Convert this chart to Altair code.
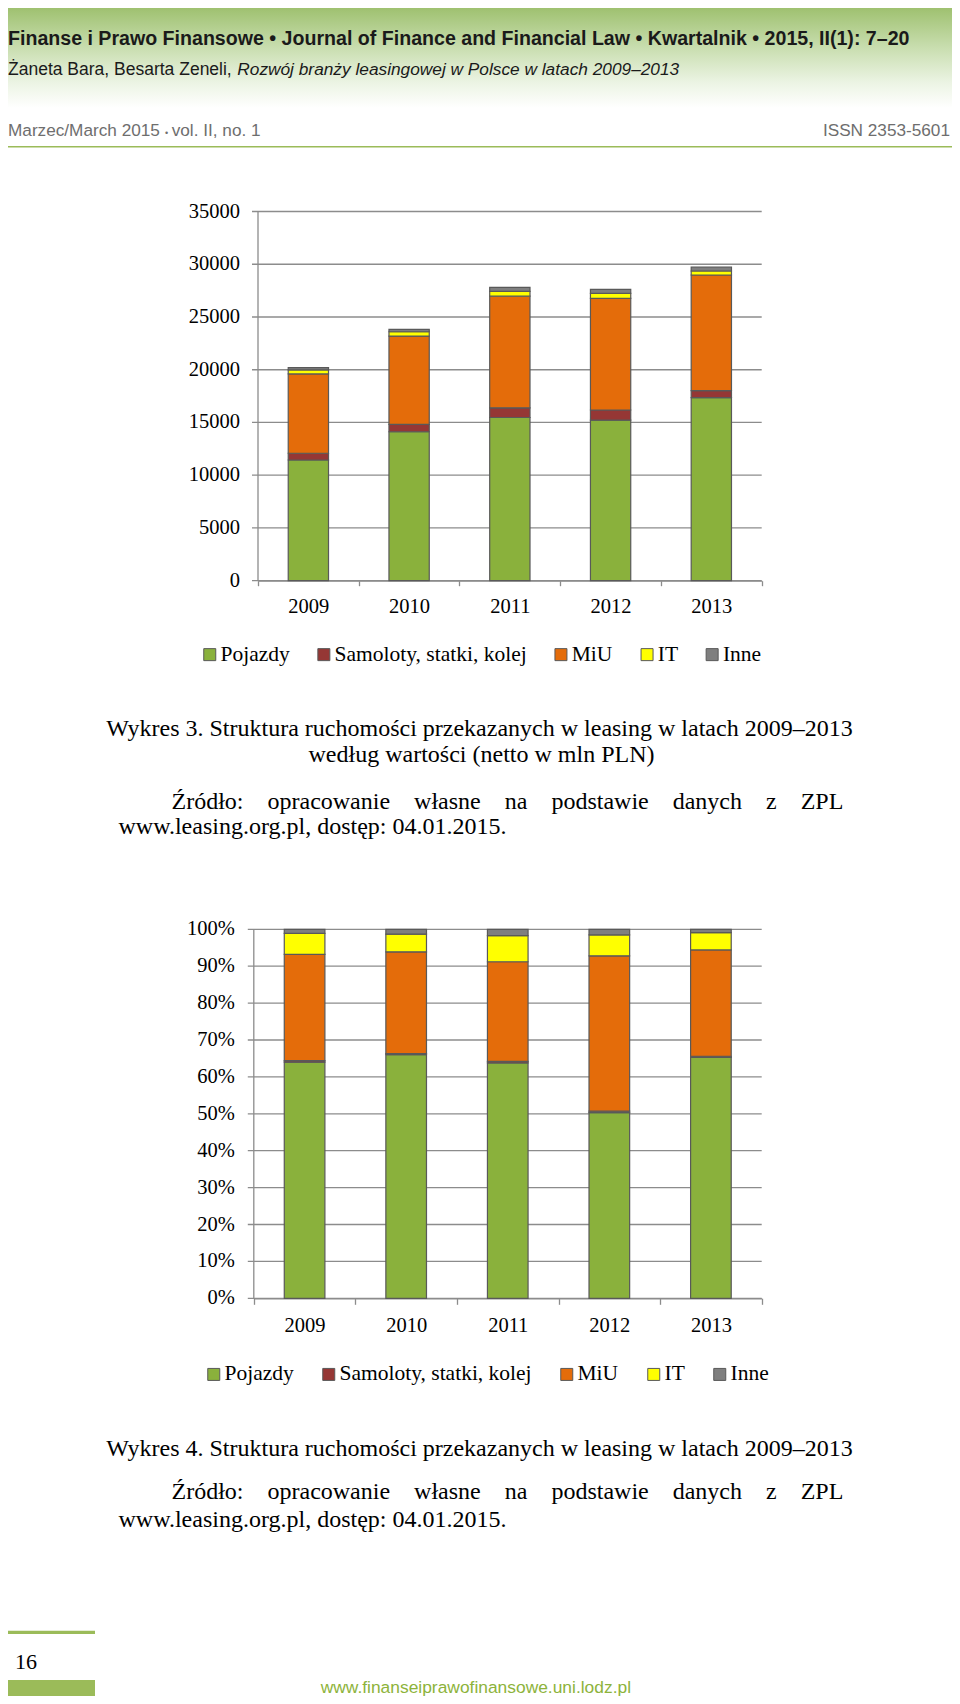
import altair as alt
import pandas as pd

# ---------------- data ----------------
years = ["2009", "2010", "2011", "2012", "2013"]
categories = ["Pojazdy", "Samoloty, statki, kolej", "MiU", "IT", "Inne"]
colors = ["#8AB13C", "#953735", "#E46C0A", "#FFFF00", "#7F7F7F"]

# Wykres 3 - wartość netto w mln PLN
pojazdy_val = [11440, 14120, 15470, 15230, 17350]
samoloty_val = [640, 700, 920, 950, 660]
miu_val = [7520, 8370, 10580, 10590, 10970]
it_val = [380, 410, 460, 470, 380]
inne_val = [220, 230, 380, 380, 380]

# Wykres 4 - struktura (%)
pojazdy_pct = [64.0, 66.0, 63.8, 50.3, 65.3]
samoloty_pct = [0.4, 0.3, 0.4, 0.4, 0.3]
miu_pct = [28.8, 27.6, 27.0, 42.1, 28.8]
it_pct = [5.7, 4.8, 7.1, 5.7, 4.7]
inne_pct = [1.1, 1.3, 1.7, 1.5, 0.9]

ticks1 = [0, 5000, 10000, 15000, 20000, 25000, 30000, 35000]
ticks2 = [0, 0.1, 0.2, 0.3, 0.4, 0.5, 0.6, 0.7, 0.8, 0.9, 1.0]

# ---------------- page geometry ----------------
M = 8
W, H = 944, 1688
SERIF = "Liberation Serif"
SANS = "Liberation Sans"
GRID = "#8C8C8C"
EDGE = "#595959"
PAGE_GREEN = "#9BBB59"


def long_table(series):
    rows = []
    for k, (cat, vals) in enumerate(zip(categories, series)):
        for yr, val in zip(years, vals):
            rows.append({"rok": yr, "kategoria": cat, "wartosc": val, "k": k})
    return pd.DataFrame(rows)


df1 = long_table([pojazdy_val, samoloty_val, miu_val, it_val, inne_val])
df2 = long_table([pojazdy_pct, samoloty_pct, miu_pct, it_pct, inne_pct])


def bar_panel(df, ticks, domain, xr, yr, stack, fmt, lx, ly, colpad, xtick, ytick, ypad):
    y_scale = alt.Scale(domain=domain, range=yr, nice=False, zero=True)
    tick_df = pd.DataFrame({"v": ticks})
    # gridlines + y ticks
    grid = alt.Chart(tick_df).mark_rule(color=GRID, strokeWidth=1.3).encode(
        y=alt.Y("v:Q", scale=y_scale, axis=None),
        x=alt.value(xr[0] - ytick),
        x2=alt.value(xr[1]),
    )
    # y axis line
    ydomain = alt.Chart(pd.DataFrame({"a": [domain[0]], "b": [domain[1]]})).mark_rule(
        color=GRID, strokeWidth=1.3
    ).encode(
        y=alt.Y("a:Q", scale=y_scale, axis=None),
        y2="b:Q",
        x=alt.value(xr[0]),
    )
    # y labels
    ylabels = alt.Chart(tick_df).mark_text(
        align="right", baseline="middle", font=SERIF, fontSize=20.5, color="#000"
    ).encode(
        y=alt.Y("v:Q", scale=y_scale, axis=None),
        x=alt.value(xr[0] - ytick - ypad),
        text=alt.Text("v:Q", format=fmt),
    )
    bars = alt.Chart(df).mark_bar(
        width=alt.RelativeBandSize(0.4), stroke=EDGE, strokeWidth=1.2
    ).encode(
        x=alt.X(
            "rok:N",
            sort=years,
            scale=alt.Scale(domain=years, range=xr, paddingInner=0, paddingOuter=0),
            axis=alt.Axis(
                orient="bottom", offset=yr[0] - H, title=None, grid=False,
                tickBand="extent", labelAngle=0, labelFont=SERIF, labelFontSize=20.5,
                labelColor="#000", labelPadding=11, tickSize=xtick, tickColor=GRID,
                tickWidth=1.3, domainColor=GRID, domainWidth=1.3,
            ),
        ),
        y=alt.Y("wartosc:Q", stack=stack, scale=y_scale, axis=None),
        color=alt.Color(
            "kategoria:N",
            sort=categories,
            scale=alt.Scale(domain=categories, range=colors),
            legend=alt.Legend(
                orient="none", legendX=lx, legendY=ly, direction="horizontal",
                title=None, symbolType="square", symbolSize=144,
                symbolStrokeColor=EDGE, symbolStrokeWidth=1, labelFont=SERIF,
                labelFontSize=21.5, labelColor="#000", labelLimit=500,
                columnPadding=colpad, labelOffset=0,
            ),
        ),
        order=alt.Order("k:Q", sort="ascending"),
    )
    return alt.layer(grid, ydomain, ylabels, bars)


def txt(s, x, y, size, font, color="#000", align="left", baseline="alphabetic",
        weight="normal", style="normal"):
    return alt.Chart(pd.DataFrame({"t": [s]})).mark_text(
        align=align, baseline=baseline, font=font, fontSize=size,
        fontWeight=weight, fontStyle=style, color=color,
    ).encode(text="t:N", x=alt.value(x), y=alt.value(y))


def box(x1, x2, y1, y2, color):
    return alt.Chart(pd.DataFrame({"a": [0]})).mark_rect(color=color).encode(
        x=alt.value(x1), x2=alt.value(x2), y=alt.value(y1), y2=alt.value(y2)
    )


banner = alt.Chart(pd.DataFrame({"a": [0]})).mark_rect(
    fill=alt.Gradient(
        gradient="linear",
        stops=[
            alt.GradientStop(color="#9FC170", offset=0),
            alt.GradientStop(color="#C9DEB0", offset=0.4),
            alt.GradientStop(color="#ECF4E4", offset=0.75),
            alt.GradientStop(color="#FFFFFF", offset=1),
        ],
        x1=0, x2=0, y1=0, y2=1,
    )
).encode(x=alt.value(0), x2=alt.value(W), y=alt.value(0), y2=alt.value(100))

green_rule = alt.Chart(pd.DataFrame({"a": [0]})).mark_rule(
    color=PAGE_GREEN, strokeWidth=1.6
).encode(y=alt.value(146.7 - M), x=alt.value(0), x2=alt.value(W))

GAP = " \u00a0\u00a0\u00a0"
source1 = GAP.join(["Źródło:", "opracowanie", "własne", "na", "podstawie", "danych", "z", "ZPL"])
source2 = "www.leasing.org.pl, dostęp: 04.01.2015."
HEAD = "#1A1A1A"
GREY = "#6E6E6E"

layers = [
    banner,
    txt("Finanse i Prawo Finansowe • Journal of Finance and Financial Law • Kwartalnik • 2015, II(1): 7–20",
        0, 45 - M, 19.6, SANS, color=HEAD, weight="bold"),
    txt("Żaneta Bara, Besarta Zeneli,", 0, 75 - M, 17.5, SANS, color=HEAD),
    txt("Rozwój branży leasingowej w Polsce w latach 2009–2013", 237.3 - M, 75 - M, 17.3,
        SANS, color=HEAD, style="italic"),
    txt("Marzec/March 2015", 0, 136 - M, 17.2, SANS, color=GREY),
    txt("•", 157, 136 - M, 9, SANS, color=GREY),
    txt("vol. II, no. 1", 163.7, 136 - M, 17.2, SANS, color=GREY),
    txt("ISSN 2353-5601", 950 - M, 136 - M, 17.2, SANS, color=GREY, align="right"),
    green_rule,
    # Wykres 3
    bar_panel(df1, ticks1, [0, 35000], [258.0 - M, 761.7 - M], [580.7 - M, 211.5 - M],
              "zero", "d", 191, 654.2 - M - 10.7, 23.1, 5, 6, 12),
    txt("Wykres 3. Struktura ruchomości przekazanych w leasing w latach 2009–2013",
        479.5 - M, 729 - M, 24, SERIF, align="center", baseline="middle"),
    txt("według wartości (netto w mln PLN)", 481.5 - M, 755 - M, 24, SERIF,
        align="center", baseline="middle"),
    txt(source1, 171.5 - M, 801.5 - M, 24, SERIF, baseline="middle"),
    txt(source2, 118.5 - M, 827 - M, 24, SERIF, baseline="middle"),
    # Wykres 4
    bar_panel(df2, ticks2, [0, 1], [253.8 - M, 761.7 - M], [1298.3 - M, 929.3 - M],
              "normalize", ".0%", 195, 1374 - M - 10.7, 24.0, 6, 6, 13),
    txt("Wykres 4. Struktura ruchomości przekazanych w leasing w latach 2009–2013",
        479.5 - M, 1448.5 - M, 24, SERIF, align="center", baseline="middle"),
    txt(source1, 171.5 - M, 1492 - M, 24, SERIF, baseline="middle"),
    txt(source2, 118.5 - M, 1519.5 - M, 24, SERIF, baseline="middle"),
    # footer
    box(0, 95 - M, 1630.7 - M, 1634 - M, PAGE_GREEN),
    txt("16", 15 - M, 1669 - M, 22, SERIF),
    box(0, 95 - M, 1680 - M, H, PAGE_GREEN),
    txt("www.finanseiprawofinansowe.uni.lodz.pl", 320.7 - M, 1693 - M, 17.4, SANS,
        color="#8DB33B"),
]

chart = alt.layer(*layers).properties(
    width=W, height=H, autosize="none", padding=0, background="white"
).resolve_scale(
    x="independent", y="independent", color="independent"
).configure_view(strokeWidth=0, stroke="transparent")

chart.save("out.html", embed_options={"renderer": "svg", "actions": False})
